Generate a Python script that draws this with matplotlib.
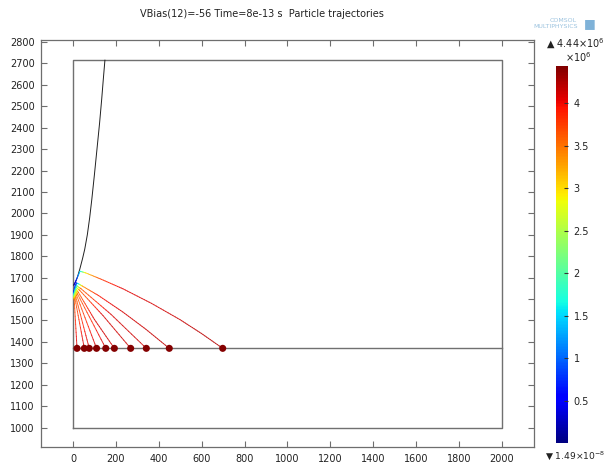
import numpy as np
import matplotlib
matplotlib.use("Agg")
import matplotlib.pyplot as plt
from matplotlib.collections import LineCollection
from matplotlib.colors import Normalize

# ---------------- data ----------------
title = "VBias(12)=-56 Time=8e-13 s  Particle trajectories"
x_ticks = [0, 200, 400, 600, 800, 1000, 1200, 1400, 1600, 1800, 2000]
y_ticks = [1000, 1100, 1200, 1300, 1400, 1500, 1600, 1700, 1800, 1900,
           2000, 2100, 2200, 2300, 2400, 2500, 2600, 2700, 2800]
cbar_ticks = [0.5e6, 1.0e6, 1.5e6, 2.0e6, 2.5e6, 3.0e6, 3.5e6, 4.0e6]
cbar_ticklabels = ["0.5", "1", "1.5", "2", "2.5", "3", "3.5", "4"]
speed_min = 1.49e-8
speed_max = 4.44e6

# geometry (domain rectangle and collector line)
rect_x = [0, 2000, 2000, 0, 0]
rect_y = [1000, 1000, 2715, 2715, 1000]
collector_x = [0, 2000]
collector_y = [1370, 1370]

# black trajectory (escaping particle)
black_x = [3, 12, 20, 32, 45, 55, 67, 78, 88, 100, 112, 124, 134, 141, 149]
black_y = [1665, 1680, 1700, 1740, 1790, 1833, 1900, 1980, 2066, 2180, 2300,
           2420, 2533, 2620, 2715]

# coloured trajectories: points along each path and speed (m/s) at each point
traj_x = [
    [3, 4, 6, 19],
    [4, 6, 10, 53],
    [5, 8, 14, 76],
    [6, 10, 18, 110],
    [7, 12, 22, 153],
    [8, 14, 26, 100, 193],
    [10, 17, 32, 140, 269],
    [12, 20, 38, 177, 342],
    [15, 24, 45, 120, 232, 340, 449],
    [5, 20, 33, 60, 133, 233, 366, 499, 598, 698],
]
traj_y = [
    [1632, 1615, 1595, 1370],
    [1637, 1622, 1600, 1370],
    [1642, 1628, 1607, 1370],
    [1648, 1634, 1615, 1370],
    [1653, 1640, 1622, 1370],
    [1658, 1646, 1630, 1505, 1370],
    [1664, 1653, 1640, 1523, 1370],
    [1670, 1660, 1648, 1529, 1370],
    [1675, 1672, 1660, 1616, 1540, 1459, 1370],
    [1665, 1700, 1730, 1722, 1692, 1648, 1580, 1504, 1440, 1370],
]
traj_speed = [
    [0.3e6, 2.2e6, 3.6e6, 4.15e6],
    [0.3e6, 2.2e6, 3.6e6, 4.15e6],
    [0.3e6, 2.2e6, 3.6e6, 4.15e6],
    [0.3e6, 2.2e6, 3.6e6, 4.15e6],
    [0.3e6, 2.2e6, 3.6e6, 4.15e6],
    [0.3e6, 2.2e6, 3.6e6, 4.1e6, 4.15e6],
    [0.3e6, 2.2e6, 3.6e6, 4.1e6, 4.15e6],
    [0.3e6, 2.2e6, 3.6e6, 4.1e6, 4.15e6],
    [0.3e6, 1.6e6, 3.3e6, 3.95e6, 4.1e6, 4.15e6, 4.2e6],
    [0.2e6, 0.9e6, 1.5e6, 3.0e6, 3.8e6, 4.05e6, 4.1e6, 4.15e6, 4.2e6, 4.25e6],
]
dot_x = [19, 53, 76, 110, 153, 193, 269, 342, 449, 698]
dot_y = [1370] * 10
dot_speed = [4.42e6] * 10

# ---------------- figure ----------------
cmap = plt.get_cmap("jet")
norm = Normalize(vmin=speed_min, vmax=speed_max)
text_color = "#222222"
frame_color = "#6e6e6e"

fig = plt.figure(figsize=(6.08, 4.66), dpi=100)
ax = fig.add_axes([0.0674, 0.0401, 0.8109, 0.8730])

ax.plot(rect_x, rect_y, color="#707070", lw=1.0, zorder=1)
ax.plot(collector_x, collector_y, color="#707070", lw=1.0, zorder=1)
ax.plot(black_x, black_y, color="#202020", lw=0.7, zorder=2)

segs, cols = [], []
for xs, ys, vs in zip(traj_x, traj_y, traj_speed):
    for i in range(len(xs) - 1):
        n = 12
        for k in range(n):
            t0, t1 = k / n, (k + 1) / n
            p0 = (xs[i] + (xs[i + 1] - xs[i]) * t0, ys[i] + (ys[i + 1] - ys[i]) * t0)
            p1 = (xs[i] + (xs[i + 1] - xs[i]) * t1, ys[i] + (ys[i + 1] - ys[i]) * t1)
            segs.append([p0, p1])
            cols.append(vs[i] + (vs[i + 1] - vs[i]) * (t0 + t1) / 2)
lc = LineCollection(segs, cmap=cmap, norm=norm, linewidths=0.7, zorder=3,
                    capstyle="round", alpha=0.8)
lc.set_array(np.array(cols))
ax.add_collection(lc)

ax.scatter(dot_x, dot_y, c=dot_speed, cmap=cmap, norm=norm, s=26,
           edgecolors="none", zorder=4)

ax.set_xlim(-149, 2149)
ax.set_ylim(908, 2807)
ax.set_xticks(x_ticks)
ax.set_yticks(y_ticks)
ax.tick_params(direction="in", length=4, width=0.8, color=frame_color,
               labelsize=7, labelcolor=text_color, top=True, right=True)
ax.tick_params(axis="x", pad=5)
ax.tick_params(axis="y", pad=4.5)
for s in ax.spines.values():
    s.set_color(frame_color)
    s.set_linewidth(0.9)

# colorbar
cax = fig.add_axes([0.9145, 0.0494, 0.0197, 0.809])
sm = plt.cm.ScalarMappable(cmap=cmap, norm=norm)
cb = fig.colorbar(sm, cax=cax)
cb.outline.set_visible(False)
cb.set_ticks(cbar_ticks)
cb.set_ticklabels(cbar_ticklabels)
cax.tick_params(direction="in", length=3, width=0.8, color="#333333",
                labelsize=7, labelcolor=text_color, pad=4)

fig.text(140 / 608, 1 - 14 / 466, title, fontsize=7, color=text_color,
         ha="left", va="center")
fig.text(546 / 608, 1 - 44 / 466, "\u25B2 4.44$\\times$10$^{6}$", fontsize=7,
         color=text_color, ha="left", va="center")
fig.text(578 / 608, 1 - 57 / 466, "$\\times$10$^{6}$", fontsize=7,
         color=text_color, ha="center", va="center")
fig.text(545 / 608, 1 - 456 / 466, "\u25BC 1.49$\\times$10$^{-8}$", fontsize=6.6,
         color=text_color, ha="left", va="center")
fig.text(563 / 608, 1 - 20 / 466, "COMSOL", fontsize=4.5, color="#9cc3df",
         ha="center", va="center")
fig.text(556 / 608, 1 - 27 / 466, "MULTIPHYSICS", fontsize=4.5, color="#9cc3df",
         ha="center", va="center")
fig.text(590 / 608, 1 - 24 / 466, "\u25A0", fontsize=9, color="#7fb2d8",
         ha="center", va="center")

fig.savefig("out.png", dpi=100)
